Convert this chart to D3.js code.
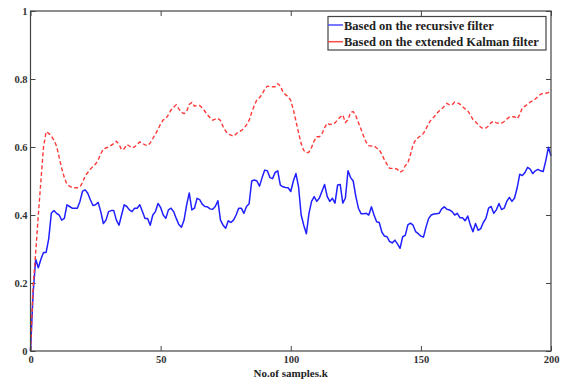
<!DOCTYPE html>
<html>
<head>
<meta charset="utf-8">
<script src="https://cdn.jsdelivr.net/npm/d3@7"></script>
<style>
  html, body { margin: 0; padding: 0; background: #fff; }
  svg { display: block; }
  .tick text { font-family: "Liberation Serif", "DejaVu Serif", serif; font-weight: bold; font-size: 10.5px; fill: #333; }
  .label { font-family: "Liberation Serif", "DejaVu Serif", serif; font-weight: bold; fill: #222; }
</style>
</head>
<body>
<svg id="chart" width="562" height="379"></svg>
<script>
// Sample index k = 0..200
const samples = d3.range(0, 201);

// Estimate from the recursive filter
const recursiveFilter = [
  0, 0.17, 0.27, 0.245, 0.27, 0.29, 0.29, 0.33, 0.405, 0.413,
  0.405, 0.40, 0.385, 0.39, 0.43, 0.425, 0.42, 0.42, 0.42, 0.44,
  0.47, 0.474, 0.464, 0.445, 0.428, 0.43, 0.437, 0.41, 0.375, 0.385,
  0.41, 0.413, 0.413, 0.385, 0.37, 0.40, 0.43, 0.425, 0.415, 0.41,
  0.42, 0.42, 0.43, 0.41, 0.39, 0.39, 0.37, 0.40, 0.41, 0.434,
  0.422, 0.40, 0.39, 0.415, 0.42, 0.41, 0.39, 0.372, 0.364, 0.385,
  0.43, 0.465, 0.415, 0.42, 0.449, 0.445, 0.432, 0.425, 0.424, 0.418,
  0.417, 0.425, 0.442, 0.385, 0.37, 0.361, 0.383, 0.378, 0.385, 0.40,
  0.42, 0.42, 0.405, 0.425, 0.433, 0.50, 0.503, 0.50, 0.485, 0.51,
  0.532, 0.53, 0.51, 0.507, 0.525, 0.53, 0.488, 0.483, 0.481, 0.48,
  0.469, 0.50, 0.522, 0.483, 0.40, 0.37, 0.345, 0.405, 0.44, 0.454,
  0.44, 0.45, 0.47, 0.49, 0.455, 0.44, 0.449, 0.435, 0.488, 0.49,
  0.435, 0.45, 0.53, 0.51, 0.50, 0.455, 0.42, 0.404, 0.404, 0.405,
  0.40, 0.424, 0.40, 0.38, 0.378, 0.35, 0.338, 0.336, 0.322, 0.318,
  0.326, 0.315, 0.302, 0.336, 0.34, 0.371, 0.376, 0.37, 0.351, 0.345,
  0.338, 0.335, 0.365, 0.39, 0.40, 0.403, 0.404, 0.405, 0.418, 0.424,
  0.417, 0.415, 0.41, 0.40, 0.405, 0.392, 0.392, 0.383, 0.397, 0.371,
  0.351, 0.375, 0.355, 0.36, 0.378, 0.39, 0.42, 0.425, 0.405, 0.415,
  0.434, 0.416, 0.42, 0.44, 0.452, 0.44, 0.45, 0.48, 0.52, 0.516,
  0.525, 0.54, 0.535, 0.522, 0.53, 0.534, 0.53, 0.528, 0.56, 0.599,
  0.574
];

// Estimate from the extended Kalman filter
const extendedKalman = [
  0, 0.19, 0.29, 0.40, 0.50, 0.60, 0.645, 0.64, 0.632, 0.62,
  0.603, 0.57, 0.537, 0.51, 0.49, 0.485, 0.481, 0.48, 0.48, 0.483,
  0.495, 0.515, 0.525, 0.535, 0.543, 0.55, 0.562, 0.58, 0.594, 0.597,
  0.60, 0.605, 0.61, 0.617, 0.608, 0.592, 0.595, 0.607, 0.603, 0.597,
  0.60, 0.608, 0.615, 0.611, 0.606, 0.604, 0.612, 0.625, 0.638, 0.652,
  0.668, 0.68, 0.683, 0.695, 0.709, 0.717, 0.724, 0.712, 0.702, 0.698,
  0.705, 0.725, 0.731, 0.72, 0.722, 0.722, 0.715, 0.705, 0.695, 0.686,
  0.679, 0.682, 0.684, 0.678, 0.66, 0.647, 0.638, 0.635, 0.632, 0.638,
  0.645, 0.648, 0.655, 0.665, 0.678, 0.702, 0.722, 0.739, 0.745, 0.755,
  0.77, 0.779, 0.778, 0.777, 0.777, 0.786, 0.78, 0.762, 0.754, 0.748,
  0.737, 0.71, 0.676, 0.642, 0.61, 0.59, 0.583, 0.585, 0.599, 0.618,
  0.63, 0.63, 0.638, 0.657, 0.67, 0.666, 0.667, 0.671, 0.68, 0.688,
  0.694, 0.672, 0.68, 0.702, 0.704, 0.692, 0.672, 0.652, 0.632, 0.614,
  0.604, 0.603, 0.603, 0.597, 0.592, 0.578, 0.562, 0.549, 0.537, 0.537,
  0.537, 0.534, 0.526, 0.53, 0.545, 0.553, 0.578, 0.606, 0.621, 0.628,
  0.633, 0.64, 0.654, 0.669, 0.681, 0.688, 0.698, 0.706, 0.712, 0.72,
  0.728, 0.724, 0.724, 0.732, 0.73, 0.726, 0.719, 0.712, 0.706, 0.695,
  0.681, 0.674, 0.666, 0.658, 0.654, 0.656, 0.662, 0.672, 0.676, 0.671,
  0.67, 0.67, 0.675, 0.682, 0.688, 0.689, 0.689, 0.683, 0.695, 0.715,
  0.72, 0.726, 0.732, 0.736, 0.741, 0.749, 0.755, 0.758, 0.758, 0.76,
  0.768
];

const xTicks = [0, 50, 100, 150, 200];
const yTicks = [0, 0.2, 0.4, 0.6, 0.8, 1];
const seriesNames = ["Based on the recursive filter", "Based on the extended Kalman filter"];
const xTitle = "No.of samples.k";

const svg = d3.select("#chart");
const plotLeft = 30.5, plotRight = 551, plotTop = 11, plotBottom = 351;

const x = d3.scaleLinear().domain([0, 200]).range([plotLeft, plotRight]);
const y = d3.scaleLinear().domain([0, 1]).range([plotBottom, plotTop]);

const frameColor = "#444";
const tickLen = 5;

// bottom axis (labels) with inward ticks
const gx = svg.append("g").attr("transform", `translate(0,${plotBottom})`)
  .call(d3.axisBottom(x).tickValues(xTicks).tickSize(-tickLen).tickPadding(5).tickFormat(d3.format("d")));
// top axis: ticks only
const gxt = svg.append("g").attr("transform", `translate(0,${plotTop})`)
  .call(d3.axisTop(x).tickValues(xTicks).tickSize(-tickLen).tickFormat(""));
// left axis (labels)
const gy = svg.append("g").attr("transform", `translate(${plotLeft},0)`)
  .call(d3.axisLeft(y).tickValues(yTicks).tickSize(-tickLen).tickPadding(3)
    .tickFormat(d => (d === 0 || d === 1) ? d3.format("d")(d) : d3.format(".1f")(d)));
// right axis: ticks only
const gyr = svg.append("g").attr("transform", `translate(${plotRight},0)`)
  .call(d3.axisRight(y).tickValues(yTicks).tickSize(-tickLen).tickFormat(""));

[gx, gxt, gy, gyr].forEach(g => {
  g.select(".domain").remove();
  g.selectAll(".tick line").attr("stroke", frameColor).attr("stroke-width", 1);
});

// series lines
const line = d3.line().x((d, i) => x(samples[i])).y(d => y(d));

svg.append("path")
  .datum(recursiveFilter)
  .attr("d", line)
  .attr("fill", "none")
  .attr("stroke", "#2020ff")
  .attr("stroke-width", 1.5)
  .attr("stroke-linejoin", "round");

svg.append("path")
  .datum(extendedKalman)
  .attr("d", line)
  .attr("fill", "none")
  .attr("stroke", "#ff3a3a")
  .attr("stroke-width", 1.4)
  .attr("stroke-dasharray", "4,2.5");

// plot frame
svg.append("rect")
  .attr("x", plotLeft).attr("y", plotTop)
  .attr("width", plotRight - plotLeft).attr("height", plotBottom - plotTop)
  .attr("fill", "none").attr("stroke", frameColor).attr("stroke-width", 1.2);

// x-axis title
svg.append("text")
  .attr("class", "label")
  .attr("x", (plotLeft + plotRight) / 2).attr("y", 377)
  .attr("text-anchor", "middle")
  .style("font-size", "11px")
  .text(xTitle);

// legend
const lg = svg.append("g").attr("transform", "translate(328,16.5)");
lg.append("rect").attr("width", 218).attr("height", 33.5)
  .attr("fill", "#fff").attr("stroke", frameColor).attr("stroke-width", 1.2);
const legendColors = ["#4a4aff", "#ff4a4a"];
seriesNames.forEach((name, i) => {
  const yy = 8.5 + i * 16.7;
  lg.append("line").attr("x1", 0).attr("x2", 15).attr("y1", yy).attr("y2", yy)
    .attr("stroke", legendColors[i]).attr("stroke-width", 1.5);
  lg.append("text").attr("class", "label").attr("x", 16).attr("y", yy + 4.5)
    .style("font-size", "12.5px")
    .text(name);
});
</script>
</body>
</html>
